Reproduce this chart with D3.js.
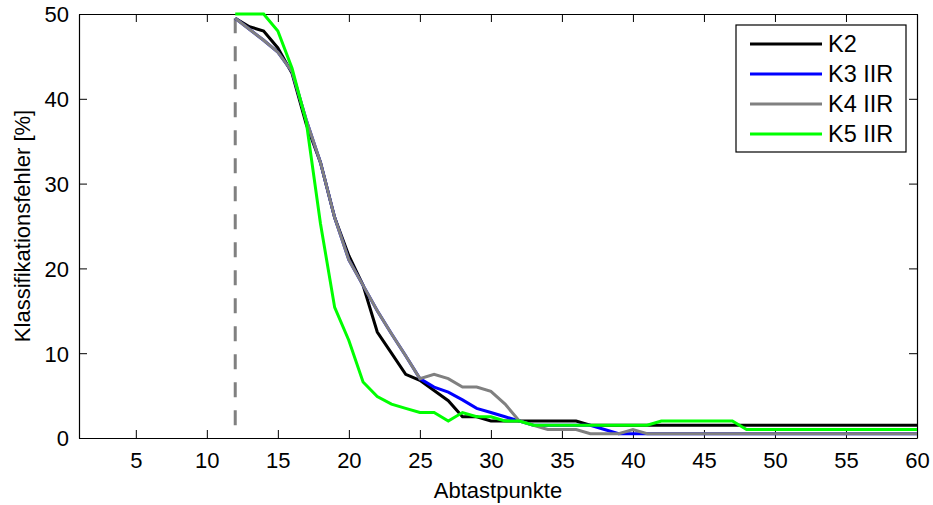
<!DOCTYPE html>
<html><head><meta charset="utf-8">
<script src="https://cdn.jsdelivr.net/npm/d3@7"></script>
<style>
body{margin:0;background:#fff;}
text{font-family:"Liberation Sans",Arial,sans-serif;}
</style></head>
<body><svg id="c" width="933" height="505"></svg>
<script>
const abtastpunkte = [12,13,14,15,16,17,18,19,20,21,22,23,24,25,26,27,28,29,30,31,32,33,34,35,36,37,38,39,40,41,42,43,44,45,46,47,48,49,50,51,52,53,54,55,56,57,58,59,60];
const k2    = [49.5,48.5,48,46,43,37,32.5,26,21.5,18,12.5,10,7.5,6.8,5.6,4.4,2.5,2.5,2,2,2,2,2,2,2,1.5,1.5,1.5,1.5,1.5,1.5,1.5,1.5,1.5,1.5,1.5,1.5,1.5,1.5,1.5,1.5,1.5,1.5,1.5,1.5,1.5,1.5,1.5,1.5];
const k3iir = [49.5,48.2,46.9,45.5,43.2,37.5,32.5,26,21,18,15,12.3,9.7,7,6,5.4,4.5,3.5,3,2.5,2,1.5,1.5,1.5,1.5,1.5,1,0.5,0.5,0.5,0.5,0.5,0.5,0.5,0.5,0.5,0.5,0.5,0.5,0.5,0.5,0.5,0.5,0.5,0.5,0.5,0.5,0.5,0.5];
const k4iir = [49.5,48.2,46.9,45.5,43.2,37.5,32.5,26,21,18,15,12.3,9.7,7,7.5,7,6,6,5.5,4,2,1.5,1,1,1,0.5,0.5,0.5,1,0.5,0.5,0.5,0.5,0.5,0.5,0.5,0.5,0.5,0.5,0.5,0.5,0.5,0.5,0.5,0.5,0.5,0.5,0.5,0.5];
const k5iir = [50,50,50,48,43.6,37.3,25.3,15.4,11.5,6.6,4.9,4,3.5,3,3,2,3,2.5,2.5,2,2,1.5,1.5,1.5,1.5,1.5,1.5,1.5,1.5,1.5,2,2,2,2,2,2,1,1,1,1,1,1,1,1,1,1,1,1,1];
const seriesNames = ["K2","K3 IIR","K4 IIR","K5 IIR"];
const seriesColors = ["#000000","#0000ff","#808080","#00ff00"];
const xTicks = [5,10,15,20,25,30,35,40,45,50,55,60];
const yTicks = [0,10,20,30,40,50];
const markerX = 12;

const svg = d3.select("#c");
const L=79, R=917, T=14, B=438;
const x = d3.scaleLinear().domain([1,60]).range([L,R]);
const y = d3.scaleLinear().domain([0,50]).range([B,T]);

const fs = "22px";
const lfs = "23.5px";
// axes (box with inward ticks)
const gx = svg.append("g").attr("transform",`translate(0,${B})`)
  .call(d3.axisBottom(x).tickValues(xTicks).tickSizeInner(-8).tickSizeOuter(0).tickPadding(14));
const gxt = svg.append("g").attr("transform",`translate(0,${T})`)
  .call(d3.axisTop(x).tickValues(xTicks).tickSizeInner(-8).tickSizeOuter(0).tickFormat(""));
const gy = svg.append("g").attr("transform",`translate(${L},0)`)
  .call(d3.axisLeft(y).tickValues(yTicks).tickSizeInner(-8).tickSizeOuter(0).tickPadding(10));
const gyr = svg.append("g").attr("transform",`translate(${R},0)`)
  .call(d3.axisRight(y).tickValues(yTicks).tickSizeInner(-8).tickSizeOuter(0).tickFormat(""));
[gx,gxt,gy,gyr].forEach(g=>{
  g.selectAll("path.domain").attr("stroke","#000").attr("stroke-width",1.2);
  g.selectAll(".tick line").attr("stroke","#000").attr("stroke-width",1);
  g.selectAll("text").attr("font-size",fs).attr("fill","#000").attr("font-family","Liberation Sans, Arial, sans-serif");
});
gx.selectAll(".tick text").attr("dy","0.71em");
gy.selectAll(".tick text").attr("dy","0.36em");

// dashed marker line
svg.append("line").attr("x1",x(markerX)).attr("x2",x(markerX)).attr("y1",y(49.5)).attr("y2",B)
  .attr("stroke","#808080").attr("stroke-width",3).attr("stroke-dasharray","15,13");

const line = d3.line().x((d,i)=>x(abtastpunkte[i])).y(d=>y(d));
const allSeries = [k2,k3iir,k4iir,k5iir];
allSeries.forEach((s,i)=>{
  svg.append("path").datum(s).attr("d",line).attr("fill","none")
    .attr("stroke",seriesColors[i]).attr("stroke-width",3).attr("stroke-linejoin","miter");
});

// legend
const lg = svg.append("g");
lg.append("rect").attr("x",736).attr("y",25).attr("width",170).attr("height",127)
  .attr("fill","#fff").attr("stroke","#000").attr("stroke-width",1.2);
seriesNames.forEach((n,i)=>{
  const cy = 44 + i*30;
  lg.append("line").attr("x1",750).attr("x2",822).attr("y1",cy).attr("y2",cy)
    .attr("stroke",seriesColors[i]).attr("stroke-width",3);
  lg.append("text").attr("x",828).attr("y",cy).attr("dy","0.36em").attr("font-size",lfs).text(n);
});

// axis titles
svg.append("text").attr("x",(L+R)/2).attr("y",498).attr("text-anchor","middle").attr("font-size",fs).text("Abtastpunkte");
svg.append("text").attr("transform",`translate(30,${(T+B)/2}) rotate(-90)`).attr("text-anchor","middle").attr("font-size",fs).text("Klassifikationsfehler [%]");
</script></body></html>
